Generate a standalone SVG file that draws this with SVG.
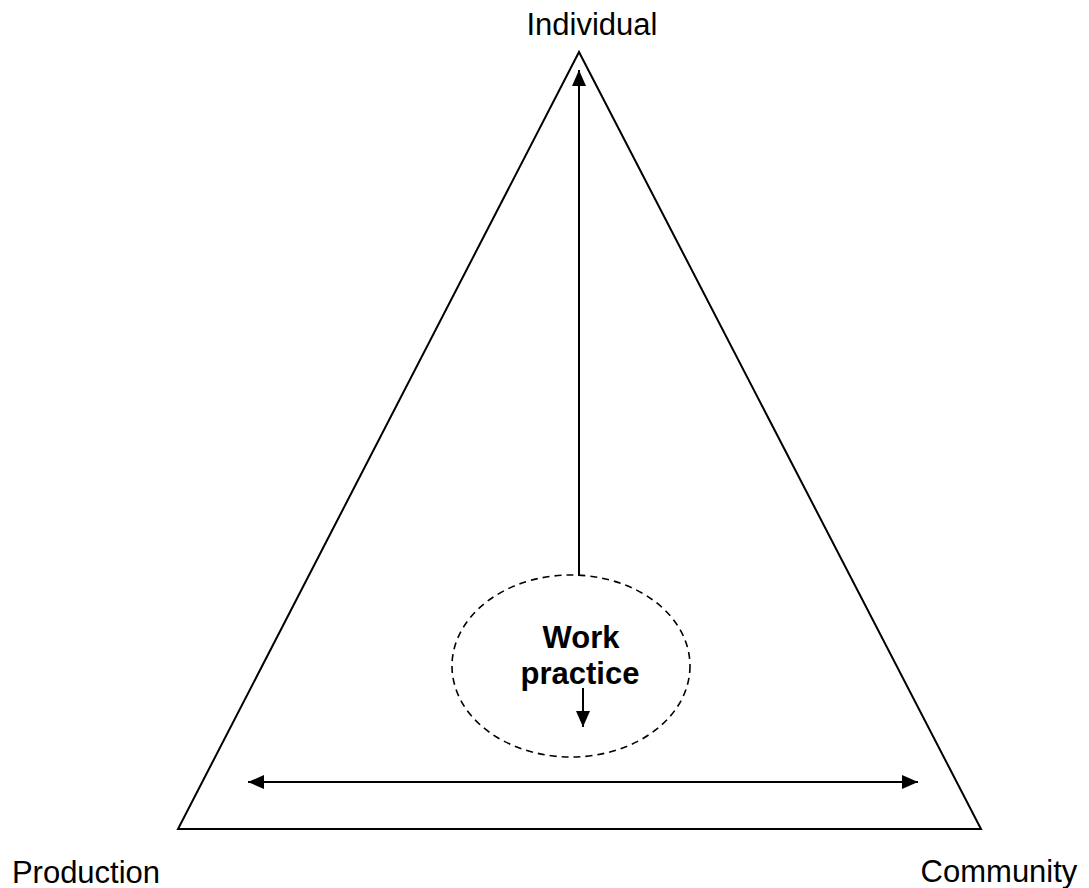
<svg xmlns="http://www.w3.org/2000/svg" width="1089" height="888" viewBox="0 0 1089 888">
<style>
.lbl{font-family:"Liberation Sans",Arial,sans-serif;font-size:31px;fill:#000;text-anchor:middle}
.bold{font-family:"Liberation Sans",Arial,sans-serif;font-size:31px;font-weight:bold;fill:#000;text-anchor:middle}
.ln{stroke:#000;stroke-width:2;fill:none}
</style>
<defs>
<marker id="ah" viewBox="0 0 16 14" refX="16" refY="7" markerWidth="16" markerHeight="14" markerUnits="userSpaceOnUse" orient="auto-start-reverse">
<path d="M0,0 L16,7 L0,14 Z" fill="#000"/>
</marker>
</defs>
<rect width="1089" height="888" fill="#fff"/>
<g id="triangle">
<polygon points="579,52 178,829 981,829" fill="none" stroke="#000" stroke-width="2"/>
</g>
<g id="work-practice">
<ellipse cx="571" cy="666" rx="119" ry="91" fill="none" stroke="#000" stroke-width="1.6" stroke-dasharray="7,5"/>
<text class="bold" x="581" y="648">Work</text>
<text class="bold" x="580" y="684">practice</text>
</g>
<g id="individual"><text class="lbl" x="592" y="35">Individual</text></g>
<g id="production"><text class="lbl" x="86" y="883">Production</text></g>
<g id="community"><text class="lbl" x="999" y="882">Community</text></g>
<g id="connectors">
<line class="ln" x1="579" y1="576" x2="579" y2="70" marker-end="url(#ah)"/>
<line class="ln" x1="583" y1="688" x2="583" y2="727" marker-end="url(#ah)"/>
<line class="ln" x1="248" y1="782" x2="918" y2="782" marker-start="url(#ah)" marker-end="url(#ah)"/>
</g>
</svg>
